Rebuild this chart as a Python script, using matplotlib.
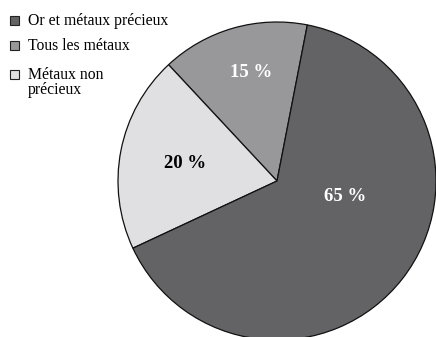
"""Pie chart: share of metal categories."""

import matplotlib.pyplot as plt
from matplotlib.patches import Rectangle

plt.rcParams["font.family"] = ["Liberation Serif", "DejaVu Serif"]

# Legend order
CATEGORIES = ["Or et métaux précieux", "Tous les métaux", "Métaux non\nprécieux"]
SHARES = [65, 15, 20]
COLORS = ["#636265", "#98989b", "#e0e0e2"]
TEXT_COLORS = ["white", "white", "black"]

# Order in which the wedges go round the pie, counter-clockwise from the start angle
DRAW_ORDER = [1, 2, 0]
# Label positions in pie units (radius = 1)
LABEL_POS = {0: (0.43, -0.10), 1: (-0.16, 0.68), 2: (-0.58, 0.11)}

W, H = 436, 337
fig = plt.figure(figsize=(W / 100, H / 100), dpi=100)
ax = fig.add_axes([0, 0, 1, 1])

radius_px = 159
cx, cy = 277, 181

ax.pie(
    [SHARES[i] for i in DRAW_ORDER],
    colors=[COLORS[i] for i in DRAW_ORDER],
    startangle=79,
    counterclock=True,
    radius=1,
    wedgeprops=dict(edgecolor="#111111", linewidth=0.9),
    frame=True,
)
ax.axis("off")
ax.set_aspect("equal")
ax.set_xlim(-cx / radius_px, (W - cx) / radius_px)
ax.set_ylim((cy - H) / radius_px, cy / radius_px)

for i, share in enumerate(SHARES):
    x, y = LABEL_POS[i]
    ax.text(
        x,
        y,
        f"{share} %",
        ha="center",
        va="center",
        fontsize=13.5,
        fontweight="bold",
        color=TEXT_COLORS[i],
    )

# Legend drawn by hand: square key + label, first line level with the key
key_tops = [16, 41, 70]  # pixels from top
key_size = 9
line_px = 15
for top, label, color in zip(key_tops, CATEGORIES, COLORS):
    fig.patches.append(
        Rectangle(
            (10 / W, 1 - (top + key_size) / H),
            key_size / W,
            key_size / H,
            transform=fig.transFigure,
            facecolor=color,
            edgecolor="#222222",
            linewidth=0.8,
        )
    )
    # baseline alignment uses the last line, so push it down for wrapped labels
    last_baseline = top + key_size + line_px * label.count("\n")
    fig.text(
        28 / W,
        1 - last_baseline / H,
        label,
        ha="left",
        va="baseline",
        fontsize=11.3,
        linespacing=0.95,
    )

fig.savefig("out.png", dpi=100)
